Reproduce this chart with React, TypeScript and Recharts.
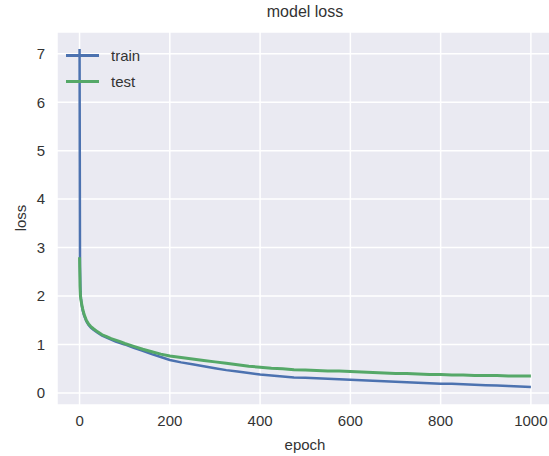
import { LineChart, Line, XAxis, YAxis, CartesianGrid } from 'recharts';

const epochs = [
  0, 1, 2, 3, 5, 7, 10, 15, 20, 25, 30, 40, 50, 60, 70, 80, 90, 100, 120, 140, 160, 180, 200,
  225, 250, 275, 300, 325, 350, 375, 400, 425, 450, 475, 500, 525, 550, 575, 600, 625, 650,
  675, 700, 725, 750, 775, 800, 825, 850, 875, 900, 925, 950, 975, 1000,
];

const trainLoss = [
  7.1, 2.6, 2.1, 1.95, 1.8, 1.7, 1.6, 1.48, 1.4, 1.35, 1.31, 1.24, 1.18, 1.14, 1.1, 1.06, 1.03, 1.0,
  0.93, 0.87, 0.8, 0.74, 0.68, 0.63, 0.59, 0.55, 0.51, 0.47, 0.44, 0.41, 0.38, 0.36, 0.34, 0.32,
  0.31, 0.3, 0.29, 0.28, 0.27, 0.26, 0.25, 0.24, 0.23, 0.22, 0.21, 0.2, 0.19, 0.19, 0.18, 0.17,
  0.16, 0.15, 0.14, 0.13, 0.12,
];

const testLoss = [
  2.8, 2.2, 2.0, 1.92, 1.82, 1.73, 1.62, 1.5, 1.42, 1.37, 1.33, 1.26, 1.2, 1.16, 1.12, 1.09, 1.06,
  1.02, 0.96, 0.9, 0.85, 0.8, 0.76, 0.73, 0.7, 0.67, 0.64, 0.61, 0.58, 0.55, 0.53, 0.51, 0.5,
  0.48, 0.47, 0.46, 0.45, 0.45, 0.44, 0.43, 0.42, 0.41, 0.4, 0.4, 0.39, 0.38, 0.38, 0.37, 0.37,
  0.36, 0.36, 0.36, 0.35, 0.35, 0.35,
];

const xTicks = [0, 200, 400, 600, 800, 1000];
const yTicks = [0, 1, 2, 3, 4, 5, 6, 7];

const data = epochs.map((epoch, i) => ({ epoch, train: trainLoss[i], test: testLoss[i] }));

const font = '"Liberation Sans", Arial, sans-serif';
const textColor = '#333';

const legendItems = [
  { name: 'train', color: '#4C72B0' },
  { name: 'test', color: '#55A868' },
];

function LegendBox() {
  return (
    <div
      style={{
        position: 'absolute',
        left: 66,
        top: 42,
        fontSize: 15,
        color: textColor,
        zIndex: 2,
      }}
    >
      {legendItems.map((it) => (
        <div key={it.name} style={{ display: 'flex', alignItems: 'center', height: 26 }}>
          <div style={{ width: 33, height: 3, background: it.color, marginRight: 12 }} />
          <span>{it.name}</span>
        </div>
      ))}
    </div>
  );
}

export default function App() {
  return (
    <div
      style={{
        position: 'absolute',
        left: 0,
        top: 0,
        width: 549,
        height: 456,
        overflow: 'hidden',
        background: '#fff',
        fontFamily: font,
      }}
    >
      <div
        style={{
          position: 'absolute',
          top: 3,
          left: 205,
          width: 200,
          textAlign: 'center',
          fontSize: 16,
          color: textColor,
        }}
      >
        model loss
      </div>
      <div
        style={{
          position: 'absolute',
          left: 20,
          top: 218,
          fontSize: 15,
          color: textColor,
          transform: 'translate(-50%, -50%) rotate(-90deg)',
        }}
      >
        loss
      </div>
      <div
        style={{
          position: 'absolute',
          top: 436,
          left: 205,
          width: 200,
          textAlign: 'center',
          fontSize: 15,
          color: textColor,
        }}
      >
        epoch
      </div>
      <LegendBox />
      <LineChart
        width={560}
        height={456}
        data={data}
        margin={{ top: 32, right: 7, bottom: 0, left: 0 }}
      >
        <CartesianGrid fill="#EAEAF2" stroke="#ffffff" strokeWidth={1.5} />
        <XAxis
          dataKey="epoch"
          type="number"
          domain={[-50, 1049]}
          ticks={xTicks}
          axisLine={false}
          tickLine={false}
          height={51}
          tickMargin={4}
          tick={{ fill: textColor, fontSize: 15, fontFamily: font }}
        />
        <YAxis
          type="number"
          domain={[-0.25, 7.45]}
          ticks={yTicks}
          axisLine={false}
          tickLine={false}
          width={57}
          tickMargin={6}
          tick={{ fill: textColor, fontSize: 15, fontFamily: font }}
        />
        <Line
          type="linear"
          dataKey="train"
          stroke="#4C72B0"
          strokeWidth={2.5}
          dot={false}
          isAnimationActive={false}
        />
        <Line
          type="linear"
          dataKey="test"
          stroke="#55A868"
          strokeWidth={3}
          dot={false}
          isAnimationActive={false}
        />
      </LineChart>
    </div>
  );
}
